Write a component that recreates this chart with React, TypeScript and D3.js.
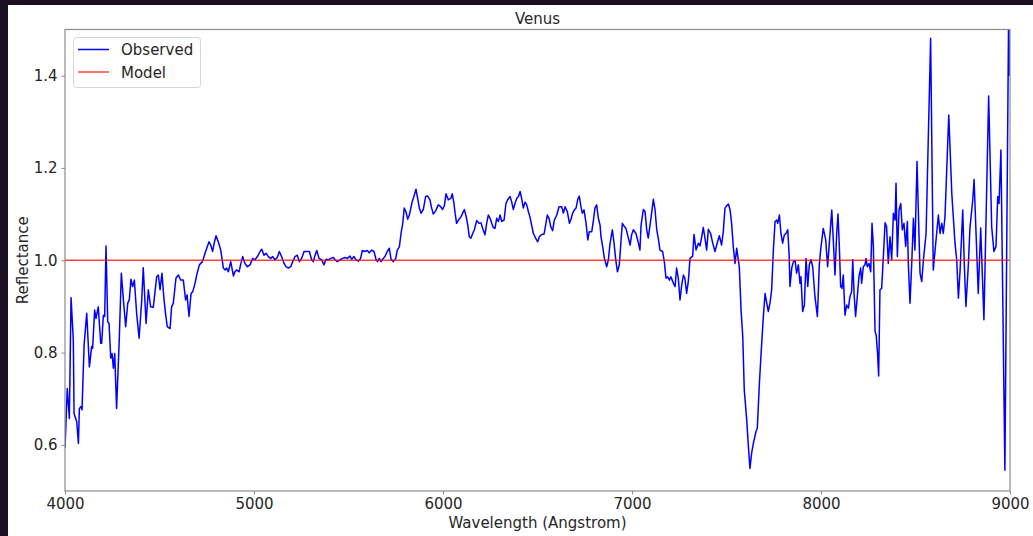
import React, { useEffect, useRef } from "react";
import * as d3 from "d3";

const title = "Venus";
const xLabel = "Wavelength (Angstrom)";
const yLabel = "Reflectance";
const seriesNames = ["Observed", "Model"];
const xTicks = [4000, 5000, 6000, 7000, 8000, 9000];
const yTicks = [0.6, 0.8, 1.0, 1.2, 1.4];

const wavelength = [
  4000, 4012, 4023, 4032, 4044, 4048, 4062, 4071, 4076, 4085, 4090, 4101, 4115, 4129, 4141, 4146, 4157, 4164, 4176, 4189,
  4194, 4203, 4210, 4217, 4226, 4233, 4242, 4249, 4256, 4263, 4273, 4287, 4298, 4309, 4321, 4332, 4340, 4349, 4358, 4367,
  4379, 4392, 4406, 4414, 4429, 4441, 4453, 4467, 4485, 4494, 4503, 4513, 4524, 4533, 4541, 4556, 4564, 4573, 4587, 4600,
  4612, 4626, 4638, 4646, 4656, 4667, 4676, 4688, 4697, 4711, 4727, 4741, 4750, 4762, 4771, 4781, 4790, 4799, 4811, 4824,
  4838, 4847, 4855, 4864, 4877, 4891, 4899, 4908, 4921, 4929, 4940, 4952, 4965, 4979, 4993, 5005, 5018, 5032, 5041, 5053,
  5064, 5076, 5088, 5099, 5111, 5123, 5134, 5146, 5159, 5169, 5182, 5194, 5205, 5217, 5229, 5240, 5252, 5265, 5279, 5293,
  5305, 5314, 5323, 5332, 5344, 5358, 5370, 5381, 5393, 5406, 5420, 5429, 5441, 5455, 5469, 5481, 5494, 5508, 5517, 5529,
  5540, 5552, 5564, 5573, 5587, 5600, 5610, 5623, 5635, 5646, 5654, 5663, 5672, 5684, 5693, 5705, 5716, 5725, 5737, 5750,
  5758, 5769, 5778, 5787, 5795, 5804, 5813, 5822, 5836, 5848, 5857, 5866, 5875, 5884, 5896, 5908, 5919, 5931, 5940, 5949,
  5961, 5975, 5988, 5998, 6007, 6016, 6028, 6041, 6049, 6058, 6064, 6072, 6085, 6095, 6104, 6113, 6122, 6131, 6139, 6148,
  6157, 6166, 6178, 6191, 6201, 6210, 6222, 6231, 6240, 6249, 6258, 6266, 6275, 6284, 6293, 6302, 6311, 6323, 6333, 6342,
  6355, 6363, 6372, 6381, 6390, 6399, 6408, 6416, 6425, 6434, 6443, 6452, 6460, 6469, 6478, 6490, 6501, 6510, 6522, 6535,
  6543, 6552, 6561, 6570, 6580, 6589, 6602, 6614, 6628, 6637, 6646, 6658, 6669, 6677, 6686, 6695, 6704, 6713, 6721, 6730,
  6737, 6746, 6757, 6766, 6774, 6787, 6796, 6804, 6813, 6822, 6831, 6836, 6845, 6854, 6866, 6875, 6884, 6896, 6905, 6914,
  6923, 6933, 6942, 6949, 6960, 6968, 6981, 6990, 6998, 7007, 7021, 7034, 7042, 7048, 7060, 7069, 7078, 7086, 7099, 7113,
  7122, 7131, 7139, 7148, 7162, 7171, 7180, 7189, 7198, 7206, 7219, 7228, 7236, 7245, 7254, 7263, 7272, 7280, 7289, 7298,
  7307, 7321, 7328, 7339, 7351, 7360, 7369, 7377, 7386, 7395, 7404, 7416, 7427, 7439, 7448, 7462, 7474, 7483, 7492, 7501,
  7510, 7519, 7527, 7536, 7545, 7554, 7568, 7577, 7586, 7594, 7607, 7616, 7624, 7633, 7642, 7656, 7663, 7674, 7683, 7695,
  7704, 7713, 7721, 7730, 7739, 7748, 7757, 7766, 7771, 7780, 7788, 7797, 7806, 7815, 7824, 7831, 7836, 7845, 7854, 7863,
  7871, 7880, 7889, 7894, 7903, 7912, 7921, 7930, 7938, 7947, 7956, 7968, 7981, 7991, 7998, 8012, 8025, 8035, 8044, 8057,
  8065, 8074, 8083, 8090, 8097, 8104, 8111, 8118, 8127, 8136, 8145, 8153, 8162, 8168, 8175, 8183, 8192, 8201, 8210, 8215,
  8224, 8233, 8238, 8245, 8254, 8263, 8270, 8277, 8286, 8292, 8299, 8305, 8312, 8321, 8330, 8339, 8347, 8356, 8365, 8374,
  8383, 8392, 8397, 8404, 8413, 8422, 8430, 8439, 8448, 8457, 8462, 8471, 8480, 8489, 8497, 8508, 8524, 8533, 8542, 8556,
  8580, 8594, 8621, 8630, 8639, 8647, 8656, 8676, 8692, 8709, 8718, 8727, 8736, 8750, 8758, 8767, 8780, 8788, 8803, 8810,
  8832, 8845, 8862, 8887, 8903, 8915, 8926, 8935, 8942, 8952, 8973, 8993, 8998,
];

const observed = [
  0.593, 0.722, 0.657, 0.919, 0.827, 0.668, 0.650, 0.603, 0.679, 0.683, 0.676, 0.816, 0.885, 0.769, 0.813, 0.809, 0.892, 0.874, 0.899, 0.820,
  0.820, 0.881, 0.878, 1.031, 0.867, 0.863, 0.788, 0.798, 0.766, 0.798, 0.679, 0.827, 0.972, 0.914, 0.856, 0.907, 0.914, 0.959, 0.943, 0.957,
  0.885, 0.831, 0.914, 0.984, 0.863, 0.936, 0.899, 0.898, 0.964, 0.968, 0.936, 0.972, 0.914, 0.881, 0.856, 0.852, 0.899, 0.907, 0.961, 0.968,
  0.957, 0.957, 0.914, 0.925, 0.878, 0.928, 0.932, 0.950, 0.968, 0.990, 0.997, 1.015, 1.026, 1.040, 1.033, 1.019, 1.038, 1.053, 1.040, 1.022,
  0.983, 0.979, 0.983, 0.975, 0.997, 0.966, 0.975, 0.979, 0.975, 0.990, 1.008, 0.993, 0.986, 0.990, 1.004, 1.001, 1.008, 1.019, 1.024, 1.011,
  1.015, 1.008, 1.004, 1.008, 1.001, 1.006, 1.019, 1.008, 0.993, 0.986, 0.983, 0.986, 0.997, 1.008, 1.011, 0.997, 1.004, 1.019, 1.019, 1.019,
  1.001, 0.997, 1.011, 1.021, 1.004, 1.001, 0.990, 1.002, 1.001, 1.004, 1.006, 1.001, 0.997, 1.001, 1.004, 1.006, 1.004, 1.009, 1.002, 1.008,
  1.001, 0.998, 1.004, 1.021, 1.019, 1.021, 1.016, 1.022, 1.019, 1.001, 0.997, 1.004, 0.997, 1.004, 1.008, 1.019, 1.026, 1.002, 0.997, 1.004,
  1.022, 1.029, 1.058, 1.080, 1.113, 1.105, 1.089, 1.098, 1.125, 1.141, 1.154, 1.134, 1.113, 1.102, 1.110, 1.138, 1.139, 1.131, 1.113, 1.100,
  1.107, 1.120, 1.116, 1.110, 1.118, 1.144, 1.131, 1.134, 1.144, 1.123, 1.102, 1.080, 1.089, 1.094, 1.102, 1.110, 1.096, 1.076, 1.051, 1.048,
  1.058, 1.066, 1.086, 1.080, 1.081, 1.069, 1.055, 1.080, 1.098, 1.091, 1.080, 1.071, 1.069, 1.091, 1.084, 1.098, 1.084, 1.087, 1.123, 1.131,
  1.138, 1.127, 1.110, 1.123, 1.134, 1.138, 1.149, 1.134, 1.113, 1.126, 1.120, 1.105, 1.094, 1.076, 1.058, 1.048, 1.040, 1.051, 1.056, 1.057,
  1.076, 1.098, 1.091, 1.073, 1.064, 1.087, 1.098, 1.116, 1.116, 1.102, 1.116, 1.105, 1.080, 1.089, 1.102, 1.109, 1.113, 1.132, 1.139, 1.116,
  1.102, 1.109, 1.080, 1.044, 1.062, 1.062, 1.087, 1.113, 1.120, 1.091, 1.076, 1.051, 1.029, 1.004, 0.986, 1.001, 1.037, 1.066, 1.037, 1.001,
  0.975, 0.990, 1.044, 1.080, 1.073, 1.069, 1.048, 1.033, 1.055, 1.066, 1.058, 1.037, 1.022, 1.076, 1.110, 1.105, 1.066, 1.048, 1.087, 1.132,
  1.109, 1.066, 1.048, 1.022, 1.019, 0.997, 0.961, 0.964, 0.957, 0.964, 0.950, 0.943, 0.983, 0.961, 0.914, 0.946, 0.968, 0.961, 0.928, 0.954,
  1.004, 1.009, 1.056, 1.022, 1.037, 1.031, 1.051, 1.071, 1.048, 1.022, 1.067, 1.058, 1.037, 1.019, 1.033, 1.053, 1.033, 1.062, 1.113, 1.118,
  1.122, 1.109, 1.080, 1.029, 0.993, 1.026, 0.985, 0.892, 0.835, 0.719, 0.654, 0.596, 0.549, 0.582, 0.603, 0.629, 0.636, 0.733, 0.798, 0.878,
  0.928, 0.907, 0.889, 0.907, 0.936, 1.022, 1.084, 1.087, 1.080, 1.098, 1.058, 1.037, 1.055, 1.058, 1.066, 1.015, 0.943, 0.983, 0.997, 0.999,
  0.972, 0.990, 0.950, 0.964, 0.889, 0.903, 1.004, 0.943, 0.990, 1.001, 0.986, 0.921, 0.878, 0.990, 1.022, 1.069, 1.044, 0.986, 1.037, 1.109,
  1.044, 0.968, 1.058, 1.100, 1.030, 0.943, 0.939, 0.968, 0.881, 0.903, 0.896, 0.921, 0.932, 1.001, 0.928, 0.878, 0.921, 0.965, 0.983, 0.950,
  0.986, 0.990, 1.004, 0.986, 0.993, 0.975, 1.080, 1.030, 0.845, 0.838, 0.800, 0.749, 0.936, 0.939, 1.008, 1.081, 1.073, 0.993, 1.051, 1.001,
  1.102, 1.087, 1.167, 1.008, 1.109, 1.123, 1.066, 1.080, 1.030, 1.084, 0.993, 0.907, 0.993, 1.091, 1.022, 1.214, 0.972, 0.954, 1.001, 1.058,
  1.481, 0.979, 1.098, 1.058, 1.080, 1.058, 1.094, 1.315, 1.145, 1.037, 1.001, 0.918, 0.979, 1.109, 0.993, 0.900, 0.993, 1.069, 1.131, 1.175,
  0.928, 1.070, 0.871, 1.356, 1.073, 1.019, 1.030, 1.138, 1.123, 1.239, 0.545, 1.550, 1.400,
];

const modelValue = [1.0, 1.0];
const modelRange = [4000, 9000];

const W = 1033;
const H = 536;
const M = { left: 65, right: 1010, top: 29.5, bottom: 491 };
const FONT = "'DejaVu Sans', sans-serif";
const FS = "15px";
const TEXT = "#262626";
const SPINE = "#8c8c8c";

export default function App() {
  const ref = useRef<SVGSVGElement | null>(null);

  useEffect(() => {
    const svg = d3.select(ref.current);
    svg.selectAll("*").remove();

    // screenshot backdrop
    svg.append("rect").attr("x", 0).attr("y", 0).attr("width", W).attr("height", H).attr("fill", "#1b1020");
    svg.append("rect").attr("x", 8).attr("y", 5).attr("width", W - 8).attr("height", H - 5).attr("fill", "#ffffff");

    const x = d3.scaleLinear().domain([4000, 9000]).range([M.left, M.right]);
    const y = d3.scaleLinear().domain([0.5, 1.5]).range([M.bottom, M.top]);

    svg.append("defs").append("clipPath").attr("id", "plotclip")
      .append("rect").attr("x", M.left).attr("y", M.top)
      .attr("width", M.right - M.left).attr("height", M.bottom - M.top);

    const obs = wavelength.map((w, i) => [w, observed[i]] as [number, number]);
    const model = modelRange.map((w, i) => [w, modelValue[i]] as [number, number]);
    const line = d3.line<[number, number]>().x((d) => x(d[0])).y((d) => y(d[1]));

    const g = svg.append("g").attr("clip-path", "url(#plotclip)");
    g.append("path").datum(obs).attr("d", line).attr("fill", "none")
      .attr("stroke", "#0000ff").attr("stroke-width", 1.5).attr("stroke-linejoin", "round");
    g.append("path").datum(model).attr("d", line).attr("fill", "none")
      .attr("stroke", "#ff0000").attr("stroke-opacity", 0.75).attr("stroke-width", 1.5);

    // axes
    const xAxis = svg.append("g").attr("transform", `translate(0,${M.bottom})`)
      .call(d3.axisBottom(x).tickValues(xTicks).tickFormat(d3.format("d")).tickSizeOuter(0).tickSize(3.5).tickPadding(4));
    const yAxis = svg.append("g").attr("transform", `translate(${M.left},0)`)
      .call(d3.axisLeft(y).tickValues(yTicks).tickFormat(d3.format(".1f")).tickSizeOuter(0).tickSize(3.5).tickPadding(4));
    [xAxis, yAxis].forEach((a) => {
      a.select(".domain").remove();
      a.selectAll("line").attr("stroke", SPINE).attr("stroke-width", 1);
      a.selectAll("text").attr("fill", TEXT).style("font-family", FONT).style("font-size", FS);
    });

    // spines
    svg.append("rect").attr("x", M.left).attr("y", M.top)
      .attr("width", M.right - M.left).attr("height", M.bottom - M.top)
      .attr("fill", "none").attr("stroke", SPINE).attr("stroke-width", 1.2);

    // labels
    svg.append("text").attr("x", (M.left + M.right) / 2).attr("y", 23.5).attr("text-anchor", "middle")
      .attr("fill", TEXT).style("font-family", FONT).style("font-size", FS).text(title);
    svg.append("text").attr("x", (M.left + M.right) / 2).attr("y", 527.5).attr("text-anchor", "middle")
      .attr("fill", TEXT).style("font-family", FONT).style("font-size", FS).text(xLabel);
    svg.append("text").attr("transform", `translate(27.5,${(M.top + M.bottom) / 2}) rotate(-90)`)
      .attr("text-anchor", "middle").attr("fill", TEXT).style("font-family", FONT).style("font-size", FS).text(yLabel);

    // legend
    const lg = svg.append("g");
    lg.append("rect").attr("x", 73.5).attr("y", 37.5).attr("width", 127).attr("height", 50).attr("rx", 3)
      .attr("fill", "#ffffff").attr("fill-opacity", 0.8).attr("stroke", "#d6d6d6").attr("stroke-width", 1);
    const colors = ["#0000ff", "#ff0000"];
    const opac = [1, 0.75];
    seriesNames.forEach((name, i) => {
      const yy = 49.5 + i * 22.5;
      lg.append("line").attr("x1", 78).attr("x2", 109).attr("y1", yy).attr("y2", yy)
        .attr("stroke", colors[i]).attr("stroke-opacity", opac[i]).attr("stroke-width", 1.5);
      lg.append("text").attr("x", 121).attr("y", yy + 5.5).attr("fill", TEXT)
        .style("font-family", FONT).style("font-size", FS).text(name);
    });
  }, []);

  return (
    <div style={{ position: "fixed", left: 0, top: 0, width: W, height: H }}>
      <svg ref={ref} width={W} height={H} style={{ display: "block" }} />
    </div>
  );
}
